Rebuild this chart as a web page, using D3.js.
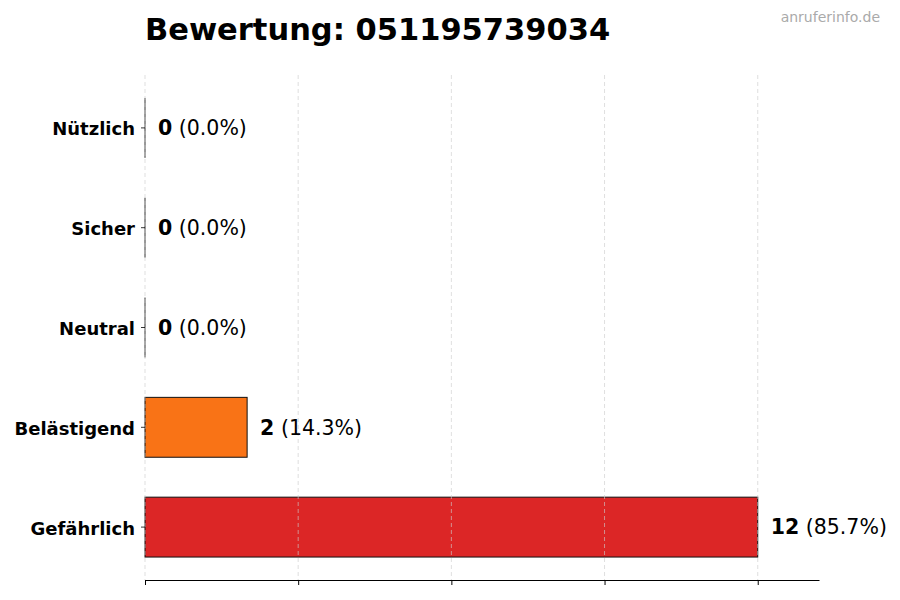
<!DOCTYPE html>
<html>
<head>
<meta charset="utf-8">
<script src="https://cdn.jsdelivr.net/npm/d3@7"></script>
<style>
  body { margin: 0; background: #fff; }
  text { font-family: "DejaVu Sans", sans-serif; }
</style>
</head>
<body>
<svg id="chart" width="900" height="600"></svg>
<script>
const categories = ['Nützlich', 'Sicher', 'Neutral', 'Belästigend', 'Gefährlich'];
const counts = [0, 0, 0, 2, 12];
const colors = ['#22c55e', '#3b82f6', '#9ca3af', '#f97316', '#dc2626'];
const xTicks = [0, 3, 6, 9, 12];

const total = d3.sum(counts);
const data = categories.map((c, i) => ({cat: c, count: counts[i], color: colors[i]}));

const margin = {top: 75, right: 81, bottom: 20, left: 145},
  width = 900 - margin.left - margin.right,
  height = 600 - margin.top - margin.bottom;

const svg = d3.select('#chart');

const x = d3.scaleLinear()
  .domain([0, d3.max(counts) * 1.1])
  .range([0, width]);

// matplotlib-like band layout: bar height 0.6 of a unit, 5% margins
const y = d3.scaleLinear()
  .domain([-0.53, categories.length - 1 + 0.53])
  .range([0, height]);
const unit = y(1) - y(0);
const barH = unit * 0.6;

const g = svg.append('g')
  .attr('transform', `translate(${margin.left},${margin.top})`);

// bars
g.selectAll('rect.bar')
  .data(data.filter(d => d.count > 0))
  .enter()
  .append('rect')
    .attr('x', x(0))
    .attr('y', d => y(categories.indexOf(d.cat)) - barH / 2)
    .attr('width', d => x(d.count) - x(0))
    .attr('height', barH)
    .attr('fill', d => d.color)
    .attr('stroke', '#111')
    .attr('stroke-width', 1);

// zero-width bars still show their outline
g.selectAll('line.zero')
  .data(data.filter(d => d.count === 0))
  .enter()
  .append('line')
    .attr('x1', x(0))
    .attr('x2', x(0))
    .attr('y1', d => y(categories.indexOf(d.cat)) - barH / 2)
    .attr('y2', d => y(categories.indexOf(d.cat)) + barH / 2)
    .attr('stroke', '#333')
    .attr('stroke-width', 1);

// grid (drawn over the bars)
g.selectAll('line.grid')
  .data(xTicks)
  .enter()
  .append('line')
    .attr('x1', d => x(d))
    .attr('x2', d => x(d))
    .attr('y1', 0)
    .attr('y2', height)
    .attr('stroke', '#cccccc')
    .attr('stroke-opacity', 0.8)
    .attr('stroke-width', 0.8)
    .attr('stroke-dasharray', '4,3');

// value labels
const labels = g.selectAll('text.val')
  .data(data)
  .enter()
  .append('text')
    .attr('x', d => x(d.count) + 13)
    .attr('y', (d, i) => y(i))
    .attr('dy', '0.36em')
    .style('font-size', '20.5px')
    .attr('fill', '#000');
labels.append('tspan')
  .style('font-weight', 'bold')
  .text(d => d.count);
labels.append('tspan')
  .text(d => ` (${(d.count / total * 100).toFixed(1)}%)`);

// y axis (labels + ticks, no spine)
const yAxis = g.append('g');
yAxis.selectAll('line')
  .data(data)
  .enter()
  .append('line')
    .attr('x1', -4)
    .attr('x2', 0)
    .attr('y1', (d, i) => y(i))
    .attr('y2', (d, i) => y(i))
    .attr('stroke', '#000')
    .attr('stroke-width', 0.8);
yAxis.selectAll('text')
  .data(data)
  .enter()
  .append('text')
    .attr('x', -10)
    .attr('y', (d, i) => y(i) + 1)
    .attr('dy', '0.36em')
    .attr('text-anchor', 'end')
    .style('font-size', '18px')
    .style('font-weight', 'bold')
    .text(d => d.cat);

// x axis: spine + ticks, no labels
const xAxis = g.append('g')
  .attr('transform', `translate(0,${height})`)
  .call(d3.axisBottom(x).tickValues(xTicks).tickFormat('').tickSize(5).tickSizeOuter(0));
xAxis.select('.domain').attr('stroke', '#000').attr('stroke-width', 1);
xAxis.selectAll('.tick line').attr('stroke', '#000').attr('stroke-width', 1);

// title
svg.append('text')
  .attr('x', margin.left)
  .attr('y', 40)
  .style('font-size', '30.5px')
  .style('font-weight', 'bold')
  .text('Bewertung: 051195739034');

// watermark
svg.append('text')
  .attr('x', 880)
  .attr('y', 22)
  .attr('text-anchor', 'end')
  .style('font-size', '14px')
  .attr('fill', '#aaaaaa')
  .text('anruferinfo.de');
</script>
</body>
</html>
